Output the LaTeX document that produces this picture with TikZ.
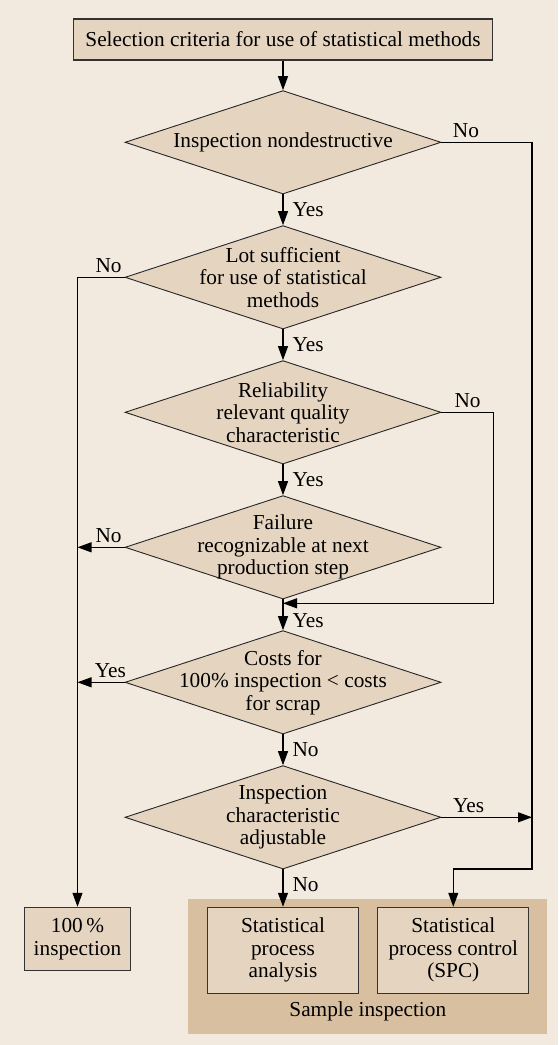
\documentclass[tikz,border=0pt]{standalone}
\usepackage{fontspec}
\setmainfont{Liberation Serif}
\usetikzlibrary{arrows.meta, shapes.geometric}
\definecolor{bgcream}{HTML}{F2EADE}
\definecolor{boxtan}{HTML}{E5D5C0}
\definecolor{grouptan}{HTML}{D8BFA0}

\begin{document}
\begin{tikzpicture}[x=1pt, y=1pt, >={Triangle[length=14pt,width=10pt]}, line width=1.1pt,
    font=\fontsize{21.3}{22.5}\selectfont,
    box/.style={draw=black!80, fill=boxtan, line width=1.1pt, align=center, inner sep=0pt},
    decision/.style={diamond, draw=black!85, fill=boxtan, line width=0.9pt,
      minimum width=316pt, minimum height=103.4pt, inner sep=0pt},
    txt/.style={align=center, inner sep=0pt},
    lbl/.style={inner sep=2pt}]
  % --- background ---
  \fill[bgcream] (0,0) rectangle (558,-1045);
  \useasboundingbox (0,0) rectangle (558,-1045);

  % --- start box and decisions ---
  \node[box, minimum width=419pt, minimum height=41pt] (start) at (283,-39.5)
    {Selection criteria for use of statistical methods};
  \node[decision] (nondes) at (283,-142.3) {};
  \node[txt] (nondes-t) at (nondes) {Inspection nondestructive};
  \node[decision] (lot) at (283,-277.3) {};
  \node[txt] (lot-t) at (lot) {Lot sufficient\\for use of statistical\\methods};
  \node[decision] (rel) at (283,-412.3) {};
  \node[txt] (rel-t) at (rel) {Reliability\\relevant quality\\characteristic};
  \node[decision] (fail) at (283,-547.3) {};
  \node[txt] (fail-t) at (fail) {Failure\\recognizable at next\\production step};
  \node[decision] (cost) at (283,-682.3) {};
  \node[txt] (cost-t) at (cost) {Costs for\\100\% inspection < costs\\for scrap};
  \node[decision] (adj) at (283,-817.3) {};
  \node[txt] (adj-t) at (adj) {Inspection\\characteristic\\adjustable};

  % --- results ---
  \node[fill=grouptan, minimum width=359pt, minimum height=135pt, inner sep=0pt] (sample) at (367.8,-966.5) {};
  \node (sample-t) at (367.8,-1011) {Sample inspection};
  \node[box, minimum width=106.4pt, minimum height=63.4pt] (full) at (77.5,-939) {100\,\%\\inspection};
  \node[box, minimum width=151pt, minimum height=86pt] (spa) at (283,-950.3) {Statistical\\process\\analysis};
  \node[box, minimum width=151pt, minimum height=86pt] (spc) at (453.3,-950.3) {Statistical\\process control\\(SPC)};

  % --- bus corners ---
  \coordinate (rline) at (532,-869);
  \coordinate (rbus) at (493.6,-603.3);

  % --- connectors ---
  \draw[->] (start.south) -- (nondes.north);
  \draw[->] (nondes.south) -- node[lbl, right=7pt] (y1) {Yes} (lot.north);
  \draw[->] (nondes.east) -- node[lbl, above=2pt, pos=0.27] (n1) {No} (nondes.east -| rline)
    -- (rline) -| (spc.north);
  \draw[->] (lot.west) -- node[lbl, above=2pt, pos=0.34] (n2) {No} (lot.west -| full.north)
    -- (full.north);
  \draw[->] (lot.south) -- node[lbl, right=7pt] (y2) {Yes} (rel.north);
  \draw[->] (rel.east) -- node[lbl, above=2pt] (n3) {No} (rel.east -| rbus)
    -- (rbus) -- (rbus -| fail.south);
  \draw[->] (rel.south) -- node[lbl, right=7pt] (y3) {Yes} (fail.north);
  \draw[->] (fail.west) -- node[lbl, above=2pt, pos=0.34] (n4) {No} (fail.west -| full.north);
  \draw[->] (fail.south) -- node[lbl, right=7pt, pos=0.7] (y4) {Yes} (cost.north);
  \draw[->] (cost.west) -- node[lbl, above=2pt, pos=0.3] (y5) {Yes} (cost.west -| full.north);
  \draw[->] (cost.south) -- node[lbl, right=7pt] (n5) {No} (adj.north);
  \draw[->] (adj.east) -- node[lbl, above=2pt, pos=0.3] (y6) {Yes} (adj.east -| rline);
  \draw[->] (adj.south) -- node[lbl, right=7pt, pos=0.4] (n6) {No} (spa.north);
\end{tikzpicture}
\end{document}
